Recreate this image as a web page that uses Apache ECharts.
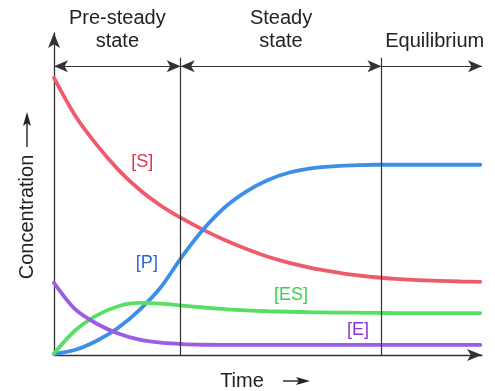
<!DOCTYPE html>
<html>
<head>
<meta charset="utf-8">
<script src="https://cdn.jsdelivr.net/npm/echarts@6/dist/echarts.min.js"></script>
<style>html,body{margin:0;padding:0;background:#fff}#c{width:495px;height:391px}</style>
</head>
<body>
<div id="c"></div>
<script>
// Data (time in arbitrary units 0..100, concentration 0..99)
const time = [0, 5, 10, 15, 20, 25, 30, 35, 40, 45, 50, 55, 60, 65, 70, 75, 80, 85, 90, 95, 99.6];
const S  = [85.2, 73.5, 64.6, 57.0, 50.8, 45.9, 41.9, 38.4, 35.3, 32.6, 30.2, 28.3, 26.8, 25.6, 24.6, 23.9, 23.4, 23.0, 22.8, 22.6, 22.5];
const P  = [0.3, 1.6, 4.4, 8.4, 13.9, 20.9, 30.4, 38.8, 45.5, 50.3, 53.8, 56.1, 57.4, 58.0, 58.3, 58.5, 58.5, 58.5, 58.5, 58.5, 58.5];
const ES = [0.5, 7.6, 12.2, 15.0, 16.0, 15.8, 15.2, 14.6, 14.1, 13.7, 13.45, 13.3, 13.15, 13.05, 13.0, 12.95, 12.9, 12.9, 12.9, 12.9, 12.9];
const E  = [22.2, 14.0, 9.6, 6.6, 4.7, 3.8, 3.35, 3.15, 3.1, 3.1, 3.1, 3.1, 3.1, 3.1, 3.1, 3.1, 3.1, 3.1, 3.1, 3.1, 3.1];
const phaseBounds = [0, 29.6, 76.5, 100];
const phaseNames = [['Pre-steady', 'state'], ['Steady', 'state'], ['Equilibrium']];
const seriesNames = ['[S]', '[P]', '[ES]', '[E]'];
const labelPos = [[20.6, 59.4], [21.7, 28.3], [55.4, 18.5], [71.0, 7.7]];

const lineColors = ['#ef5b6b', '#3b8fe6', '#55e063', '#9b5ce6'];
const textColors = ['#e4324e', '#2f63dd', '#3ccf50', '#8537d6'];
const font = '"Liberation Sans", Arial, Helvetica, sans-serif';

const chart = echarts.init(document.getElementById('c'), null, {renderer: 'canvas'});
const values = [S, P, ES, E];
const series = values.map((v, i) => ({
  type: 'line',
  name: seriesNames[i],
  data: time.map((t, k) => [t, v[k]]),
  smooth: 0.3,
  showSymbol: false,
  silent: true,
  z: 3,
  lineStyle: {width: 3.8, color: lineColors[i], cap: 'round'},
  markPoint: {
    symbol: 'circle', symbolSize: 0, silent: true,
    data: [{coord: labelPos[i], value: seriesNames[i]}],
    label: {show: true, position: 'inside', formatter: seriesNames[i], color: textColors[i], fontSize: 18, fontFamily: font}
  }
}));

const arrowY = 88.8, lineTop = 91.4;
const markData = [];
[phaseBounds[1], phaseBounds[2]].forEach(x => {
  markData.push([{coord: [x, 0], symbol: 'none'}, {coord: [x, lineTop], symbol: 'none'}]);
});
markData.push([{coord: [phaseBounds[0], arrowY], symbol: 'arrow'}, {coord: [phaseBounds[1], arrowY], symbol: 'arrow'}]);
markData.push([{coord: [phaseBounds[1], arrowY], symbol: 'arrow'}, {coord: [phaseBounds[2], arrowY], symbol: 'arrow'}]);
markData.push([{coord: [phaseBounds[2], arrowY], symbol: 'none'}, {coord: [phaseBounds[3], arrowY], symbol: 'arrow'}]);

series.push({
  type: 'line', data: [], z: 1, silent: true,
  markLine: {
    silent: true, animation: false,
    symbolSize: [9, 14],
    lineStyle: {type: 'solid', color: '#333', width: 1.2},
    label: {show: false},
    data: markData
  }
});

chart.setOption({
  animation: false,
  backgroundColor: '#fff',
  grid: {left: 54, right: 13, top: 33, bottom: 36},
  xAxis: {
    type: 'value', min: 0, max: 100,
    axisLine: {show: true, symbol: ['none', 'arrow'], symbolSize: [9, 15], lineStyle: {color: '#333', width: 1.3}},
    axisTick: {show: false}, axisLabel: {show: false}, splitLine: {show: false}
  },
  yAxis: {
    type: 'value', min: 0, max: 99,
    axisLine: {show: true, symbol: ['none', 'arrow'], symbolSize: [9, 15], lineStyle: {color: '#333', width: 1.3}},
    axisTick: {show: false}, axisLabel: {show: false}, splitLine: {show: false}
  },
  series: series
});

const g = [];
const centers = [];
for (let i = 0; i < 3; i++) {
  const a = chart.convertToPixel({gridIndex: 0}, [phaseBounds[i], 0])[0];
  const b = chart.convertToPixel({gridIndex: 0}, [phaseBounds[i + 1], 0])[0];
  centers.push((a + b) / 2);
}
centers[2] += 3;
phaseNames.forEach((lines, i) => {
  const ys = lines.length === 2 ? [18, 41] : [41];
  lines.forEach((txt, j) => {
    g.push({type: 'text', x: centers[i], y: ys[j], style: {text: txt, fill: '#222', font: '20px ' + font, textAlign: 'center', textVerticalAlign: 'middle'}});
  });
});
g.push({type: 'text', x: 27, y: 217, rotation: Math.PI / 2, style: {text: 'Concentration', fill: '#222', font: '20px ' + font, textAlign: 'center', textVerticalAlign: 'middle'}});
g.push({type: 'line', shape: {x1: 27, y1: 147, x2: 27, y2: 122}, style: {stroke: '#222', lineWidth: 1.4}});
g.push({type: 'polygon', shape: {points: [[27, 112], [31, 126], [27, 123], [23, 126]]}, style: {fill: '#222'}});
g.push({type: 'text', x: 242, y: 381, style: {text: 'Time', fill: '#222', font: '20px ' + font, textAlign: 'center', textVerticalAlign: 'middle'}});
g.push({type: 'line', shape: {x1: 283, y1: 381, x2: 300, y2: 381}, style: {stroke: '#222', lineWidth: 1.4}});
g.push({type: 'polygon', shape: {points: [[310, 381], [296, 377], [299, 381], [296, 385]]}, style: {fill: '#222'}});
chart.setOption({graphic: g});
</script>
</body>
</html>
